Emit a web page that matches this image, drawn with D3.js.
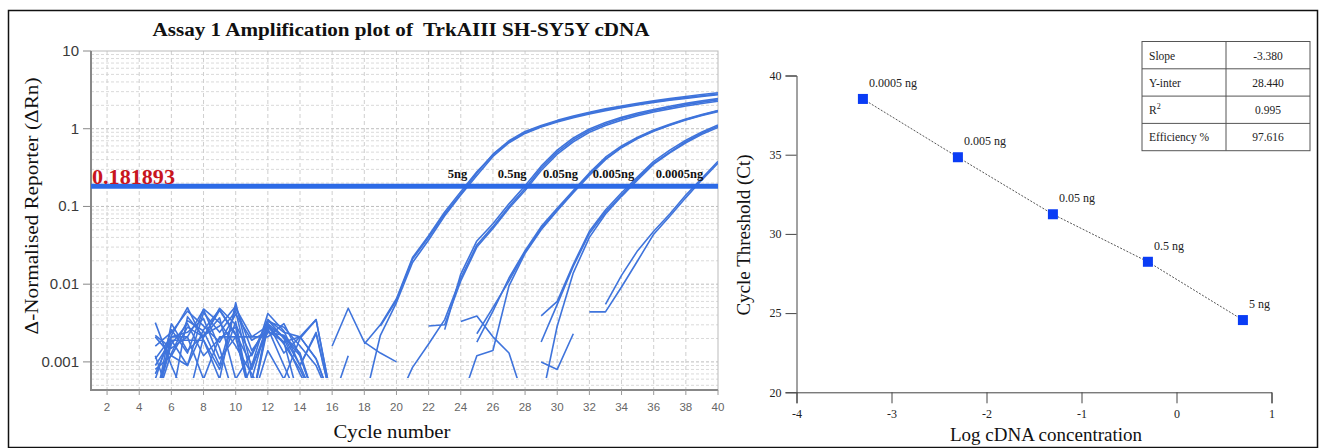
<!DOCTYPE html>
<meta charset="utf-8">
<title>TrkAIII SH-SY5Y cDNA amplification and standard curve</title>
<script src="https://d3js.org/d3.v7.min.js"></script>
<style>
  body { margin: 0; background: #fff; }
  svg { display: block; }
  text { font-family: "Liberation Serif", "Times New Roman", serif; }
  .sans { font-family: "Liberation Sans", Arial, sans-serif; }
</style>
<body>
<svg width="1320" height="448"></svg>
<script>

  // ---- amplification plot data (delta Rn per cycle, cycles 5..40, null = negative / not drawn)
  const cycles = d3.range(5, 41)
  const cycleTicks = d3.range(2, 41, 2)
  const decadeTicks = [0.001, 0.01, 0.1, 1, 10]
  const threshold = 0.181893

  const rn5ng = [
    [.0032,.0009,.0003,.0021,.0046,.0022,.0003,.0031,.0021,.0012, .0003,null,null,null,.0029,.0062,.021,.040,.080,.145, .27,.47,.70,.92,1.10,1.28,1.46,1.63,1.80,1.96, 2.12,2.28,2.44,2.60,2.75,2.90],
    [.0011,.0021,.0021,.0047,.0015,.0003,.0009,.0042,.0025,.0009, .0023,.0003,null,.0003,.0022,.0058,.019,.037,.076,.14, .25,.44,.66,.87,1.05,1.22,1.39,1.55,1.71,1.87, 2.02,2.17,2.32,2.46,2.60,2.74],
    [.0003,.0022,.0050,.0019,.0006,.0058,.0008,.0030,.0017,.0008, .0003,null,null,.0017,.0030,.0065,.022,.042,.085,.155, .28,.46,.68,.89,1.07,1.25,1.42,1.59,1.75,1.91, 2.07,2.22,2.37,2.52,2.66,2.80]
  ]
  const rn05ng = [
    [.0008,.0012,.0028,.0021,.0049,.0030,.0012,.0035,.0024,.0021, .0011,.0003,null,null,null,.0003,.00085,.0017,.0035,.012, .032,.055,.10,.17,.31,.50,.72,.95,1.15,1.35, 1.53,1.71,1.88,2.04,2.20,2.35],
    [.0022,.0015,.0021,.0006,.0021,.0021,.0003,.0028,.0018,.0003, null,.0016,.0049,.0018,.0013,.0010,null,.0029,.0030,.011, .030,.052,.095,.16,.29,.47,.68,.90,1.10,1.29, 1.47,1.64,1.80,1.96,2.11,2.26],
    [.0003,.0019,.0009,.0043,.0024,.0045,.0006,.0033,.0028,.0016, .0009,.0003,null,null,null,null,null,null,.0026,.0135, .036,.060,.108,.185,.33,.53,.76,.99,1.20,1.40, 1.59,1.77,1.95,2.12,2.28,2.44]
  ]
  const rn005ng = [
    [.0007,.0021,.0024,.0036,.0011,.0021,.0021,.0029,.0021,.0009, .0003,null,null,null,null,null,null,null,null,null, .0018,.0045,.012,.027,.055,.095,.16,.27,.43,.60, .78,.96,1.14,1.33,1.52,1.72],
    [.0012,.0003,.0038,.0021,.0037,.0006,.0013,.0031,.0013,.0021, .0035,.0003,null,null,null,null,null,null,null,null, .0023,.0050,.011,.026,.052,.090,.155,.26,.41,.58, .76,.94,1.12,1.31,1.50,1.70],
    [.0003,.0031,.0014,.0022,.0029,.0052,.0014,.0027,.0009,.0003, null,null,null,null,null,null,null,null,null,.0003, .0012,.0014,.0095,.025,.050,.088,.15,.25,.40,.57, .75,.93,1.11,1.30,1.48,1.66]
  ]
  const rn0005ng = [
    [.0009,.0019,.0019,.0019,.0008,.0033,.0003,.0035,.0020,.0007, .0003,null,null,null,null,null,null,null,null,null, null,null,null,null,.0018,.0055,.017,.045,.085,.14, .23,.36,.50,.68,.88,1.08],
    [.0016,.0024,.0045,.0029,.0018,.0041,.0019,.0025,.0018,.0021, .0011,.0003,null,null,null,null,null,null,null,null, null,null,null,null,.0039,.0060,.018,.048,.090,.15, .24,.38,.53,.71,.91,1.12],
    [.0021,.0012,.0009,.0026,.0047,.0023,.0009,.0024,.0022,.0013, .0003,null,null,null,null,null,null,null,null,null, null,null,null,null,.0003,.0029,.014,.040,.080,.135, .22,.35,.49,.66,.85,1.04]
  ]
  const rn00005ng = [
    [.0003,.0017,.0031,.0012,.0020,.0028,.0003,.0014,.0006,.0020, .0035,.0003,null,null,null,null,null,null,null,null, null,null,null,null,null,null,null,.0044,.0044,.0092, .020,.044,.075,.13,.22,.36],
    [.0006,.0026,.0013,.0048,.0032,.0016,.0007,.0003,null,.0009, .0024,.0003,.0012,null,null,null,null,null,null,null, null,null,null,null,.0010,.0008,.0023,null,.0055,.013, .027,.048,.080,.14,.23,.38],
    [.0003,.0013,.0034,.0025,.0009,.0049,.0021,.0021,.0031,.0012, .0003,null,null,null,null,null,null,null,null,.0033, .0039,.0021,.0013,.0003,null,null,null,null,null,null, null,null,null,null,null,null]
  ]
  const doseLabels = ['5ng', '0.5ng', '0.05ng', '0.005ng', '0.0005ng']
  const labelCycles = [23.8, 27.2, 30.2, 33.5, 37.6]

  // ---- standard curve data
  const logConc = [-3.301, -2.301, -1.301, -0.301, 0.699]
  const ctValues = [38.52, 34.84, 31.24, 28.24, 24.56]
  const pointLabels = ['0.0005 ng', '0.005 ng', '0.05 ng', '0.5 ng', '5 ng']
  const statNames = ['Slope', 'Y-inter', 'R', 'Efficiency %']
  const statValues = ['-3.380', '28.440', '0.995', '97.616']

  const svg = d3.select('svg')

  svg.append('rect')
    .attr('x', 8.5).attr('y', 10.5)
    .attr('width', 1309).attr('height', 437)
    .attr('fill', 'none').attr('stroke', '#111').attr('stroke-width', 1.5)

  // ================= left: amplification plot =================
  const x = d3.scaleLinear().domain([1, 40]).range([91, 718])
  const y = d3.scaleLog().domain([0.000435, 10]).range([390, 51])

  const left = svg.append('g')

  // grid
  const minorY = []
  ;[0.0001, 0.001, 0.01, 0.1, 1].forEach(d => d3.range(1, 10).forEach(k => {
    const v = d * k
    if (v > 0.000435 && v < 10) minorY.push(v)
  }))
  left.append('g').selectAll('line').data(minorY).join('line')
    .attr('x1', 91).attr('x2', 718)
    .attr('y1', d => y(d)).attr('y2', d => y(d))
    .attr('stroke', d => decadeTicks.includes(d) ? '#bdbdbd' : '#dadada')
    .attr('stroke-dasharray', '3,2')
  left.append('g').selectAll('line').data(cycleTicks.filter(c => c < 40)).join('line')
    .attr('x1', d => x(d)).attr('x2', d => x(d))
    .attr('y1', 51).attr('y2', 390)
    .attr('stroke', '#cfcfcf')
    .attr('stroke-dasharray', '4,3')

  left.append('rect')
    .attr('x', 91).attr('y', 51).attr('width', 627).attr('height', 339)
    .attr('fill', 'none').attr('stroke', '#bbb')

  // axes
  left.append('line').attr('x1', 91).attr('x2', 91).attr('y1', 51).attr('y2', 391)
    .attr('stroke', '#888').attr('stroke-width', 2)
  left.append('line').attr('x1', 90).attr('x2', 718).attr('y1', 390).attr('y2', 390)
    .attr('stroke', '#888').attr('stroke-width', 2)

  left.append('g').selectAll('line').data(decadeTicks).join('line')
    .attr('x1', 83).attr('x2', 91)
    .attr('y1', d => y(d)).attr('y2', d => y(d))
    .attr('stroke', '#888')
  left.append('g').selectAll('text').data(decadeTicks).join('text')
    .attr('class', 'sans')
    .attr('x', 79).attr('y', d => y(d) + 5)
    .attr('text-anchor', 'end')
    .attr('font-size', 15).attr('fill', '#3a3a3a')
    .text(d => d3.format('~g')(d))

  left.append('g').selectAll('line').data(cycleTicks).join('line')
    .attr('x1', d => x(d)).attr('x2', d => x(d))
    .attr('y1', 390).attr('y2', 395)
    .attr('stroke', '#999')
  left.append('g').selectAll('text').data(cycleTicks).join('text')
    .attr('class', 'sans')
    .attr('x', d => x(d)).attr('y', 411)
    .attr('text-anchor', 'middle')
    .attr('font-size', 11.5).attr('fill', '#666')
    .text(d => d)

  // curves
  svg.append('clipPath').attr('id', 'plotClip')
    .append('rect').attr('x', 91).attr('y', 51).attr('width', 627).attr('height', 327)

  const curve = d3.line()
    .defined(v => v != null)
    .x((v, i) => x(cycles[i]))
    .y(v => y(v))

  const allRuns = [...rn5ng, ...rn05ng, ...rn005ng, ...rn0005ng, ...rn00005ng]
  left.append('g').attr('clip-path', 'url(#plotClip)')
    .selectAll('path').data(allRuns).join('path')
    .attr('d', curve)
    .attr('fill', 'none')
    .attr('stroke', '#3f74dc')
    .attr('stroke-width', 1.6)
    .attr('stroke-linejoin', 'round')

  // threshold
  left.append('line')
    .attr('x1', 91).attr('x2', 718)
    .attr('y1', y(threshold)).attr('y2', y(threshold))
    .attr('stroke', '#2c6ae6').attr('stroke-width', 5)
  left.append('text')
    .attr('x', 92).attr('y', y(threshold) - 2)
    .attr('font-size', 21).attr('font-weight', 'bold')
    .attr('fill', '#c8161e')
    .attr('textLength', 83).attr('lengthAdjust', 'spacingAndGlyphs')
    .text(threshold)

  left.append('g').selectAll('text').data(doseLabels).join('text')
    .attr('x', (d, i) => x(labelCycles[i])).attr('y', y(threshold) - 8)
    .attr('text-anchor', 'middle')
    .attr('font-size', 12.5).attr('font-weight', 'bold').attr('fill', '#111')
    .text(d => d)

  left.append('text')
    .attr('x', 401).attr('y', 36)
    .attr('text-anchor', 'middle')
    .attr('font-size', 18).attr('font-weight', 'bold').attr('fill', '#111')
    .attr('textLength', 497).attr('lengthAdjust', 'spacingAndGlyphs')
    .attr('xml:space', 'preserve')
    .text('Assay 1 Amplification plot of  TrkAIII SH-SY5Y cDNA')

  left.append('text')
    .attr('transform', 'translate(38,206) rotate(-90)')
    .attr('text-anchor', 'middle')
    .attr('font-size', 19).attr('fill', '#111')
    .attr('textLength', 257).attr('lengthAdjust', 'spacingAndGlyphs')
    .text('Δ-Normalised Reporter (ΔRn)')

  left.append('text')
    .attr('x', 392).attr('y', 438)
    .attr('text-anchor', 'middle')
    .attr('font-size', 19).attr('fill', '#111')
    .attr('textLength', 117).attr('lengthAdjust', 'spacingAndGlyphs')
    .text('Cycle number')

  // ================= right: standard curve =================
  const sx = d3.scaleLinear().domain([-4, 1]).range([796.5, 1271.5])
  const sy = d3.scaleLinear().domain([20, 40]).range([392.3, 75.5])

  const right = svg.append('g')

  right.append('g')
    .attr('transform', 'translate(0,392.3)')
    .call(d3.axisBottom(sx).ticks(5).tickSize(11).tickPadding(6).tickFormat(d => String(d)))
    .call(g => g.select('.domain').attr('stroke', '#444'))
    .call(g => g.selectAll('line').attr('stroke', '#444'))
    .call(g => g.selectAll('text').attr('font-family', '"Liberation Serif", serif')
      .attr('font-size', 12).attr('fill', '#222'))

  right.append('g')
    .attr('transform', 'translate(796.5,0)')
    .call(d3.axisLeft(sy).tickValues([20, 25, 30, 35, 40]).tickSize(11).tickPadding(4))
    .call(g => g.select('.domain').attr('stroke', '#444'))
    .call(g => g.selectAll('line').attr('stroke', '#444'))
    .call(g => g.selectAll('text').attr('font-family', '"Liberation Serif", serif')
      .attr('font-size', 12).attr('fill', '#222'))

  right.append('path')
    .datum(logConc)
    .attr('d', d3.line().x(d => sx(d)).y((d, i) => sy(ctValues[i])))
    .attr('fill', 'none').attr('stroke', '#555')
    .attr('stroke-width', 1).attr('stroke-dasharray', '2,1.5')

  right.append('g').selectAll('rect').data(logConc).join('rect')
    .attr('x', d => sx(d) - 5).attr('y', (d, i) => sy(ctValues[i]) - 5)
    .attr('width', 10).attr('height', 10)
    .attr('fill', '#0a3cf5')

  right.append('g').selectAll('text').data(pointLabels).join('text')
    .attr('x', (d, i) => sx(logConc[i]) + 6)
    .attr('y', (d, i) => sy(ctValues[i]) - 12)
    .attr('font-size', 12).attr('fill', '#222')
    .text(d => d)

  right.append('text')
    .attr('transform', 'translate(750,235) rotate(-90)')
    .attr('text-anchor', 'middle')
    .attr('font-size', 19).attr('fill', '#111')
    .text('Cycle Threshold (Ct)')

  right.append('text')
    .attr('x', 1046).attr('y', 441)
    .attr('text-anchor', 'middle')
    .attr('font-size', 19).attr('fill', '#111')
    .text('Log cDNA concentration')

  // stats table
  const tx0 = 1142, tx1 = 1226, tx2 = 1310, ty0 = 41.5, rowH = 27.3
  const table = right.append('g')
  table.append('rect')
    .attr('x', tx0).attr('y', ty0).attr('width', tx2 - tx0).attr('height', rowH * statNames.length)
    .attr('fill', '#fff').attr('stroke', '#555')
  table.append('line').attr('x1', tx1).attr('x2', tx1)
    .attr('y1', ty0).attr('y2', ty0 + rowH * statNames.length).attr('stroke', '#555')
  table.selectAll('.rowline').data(statNames.slice(1)).join('line')
    .attr('x1', tx0).attr('x2', tx2)
    .attr('y1', (d, i) => ty0 + rowH * (i + 1)).attr('y2', (d, i) => ty0 + rowH * (i + 1))
    .attr('stroke', '#555')
  const names = table.selectAll('.name').data(statNames).join('text')
    .attr('x', tx0 + 7).attr('y', (d, i) => ty0 + rowH * i + 18)
    .attr('font-size', 11.5).attr('fill', '#222')
    .text(d => d)
  names.filter(d => d === 'R').append('tspan')
    .attr('dy', -5).attr('font-size', 8).text('2')
  table.selectAll('.val').data(statValues).join('text')
    .attr('x', (tx1 + tx2) / 2).attr('y', (d, i) => ty0 + rowH * i + 18)
    .attr('text-anchor', 'middle')
    .attr('font-size', 11.5).attr('fill', '#222')
    .text(d => d)

</script>
</body>
